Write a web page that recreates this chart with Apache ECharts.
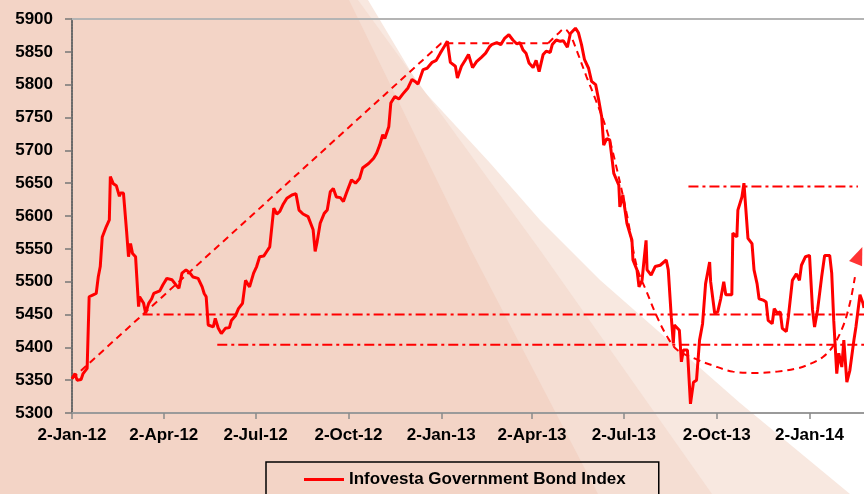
<!DOCTYPE html>
<html>
<head>
<meta charset="utf-8">
<title>Infovesta Government Bond Index</title>
<script src="https://cdn.jsdelivr.net/npm/echarts@6/dist/echarts.min.js"></script>
<style>
    html, body {margin: 0; padding: 0; background: #fff;}
    #chart {width: 864px; height: 494px;}
</style>
</head>
<body>
<div id="chart"></div>
<script>
// x axis = calendar days counted from 2-Jan-12
var startDate = new Date(2012, 0, 2);
var dayCount = 786;
var monthNames = ['Jan','Feb','Mar','Apr','May','Jun','Jul','Aug','Sep','Oct','Nov','Dec'];
var tickLabels = ['2-Jan-12','2-Apr-12','2-Jul-12','2-Oct-12','2-Jan-13','2-Apr-13','2-Jul-13','2-Oct-13','2-Jan-14'];

var yMin = 5300, yMax = 5900, yStep = 50;

// index
var indexDay = [0,3,5,9,11,15,17,21,24,26,28,30,34,37,38,41,44,47,48,51,54,56,58,60,63,66,67,71,73,76,79,81,87,90,94,99,103,106,109,113,117,120,125,129,131,133,135,140,142,145,148,152,156,158,162,165,169,172,176,180,183,186,190,193,196,200,203,206,209,213,218,222,225,229,234,239,241,243,246,250,253,256,259,262,266,269,272,277,281,285,288,294,299,302,305,308,310,314,316,320,324,328,333,337,340,343,348,352,357,361,365,369,372,375,380,382,386,390,393,397,401,406,410,414,416,421,425,429,433,437,441,444,447,450,453,457,460,463,467,470,474,476,480,484,487,491,494,499,502,505,508,512,515,519,522,525,527,530,533,537,542,543,546,550,555,556,560,562,565,567,569,570,574,578,583,589,591,594,596,597,602,604,606,610,613,616,619,622,625,628,632,633,637,640,643,646,648,654,655,659,660,664,666,670,674,676,679,681,685,688,690,694,696,699,702,704,708,710,714,718,721,723,727,731,734,736,739,743,746,751,753,755,758,760,763,765,768,771,775,777,781,784,785];
var indexValue = [5352,5360,5350,5351,5360,5368,5477,5480,5482,5507,5523,5568,5584,5594,5660,5649,5646,5630,5635,5635,5579,5538,5558,5543,5538,5462,5477,5467,5452,5467,5474,5482,5486,5495,5505,5503,5495,5490,5513,5518,5513,5507,5505,5492,5482,5477,5434,5431,5444,5429,5421,5429,5430,5441,5448,5459,5467,5502,5492,5513,5523,5538,5539,5546,5553,5612,5603,5607,5617,5627,5632,5634,5609,5603,5599,5579,5546,5561,5589,5604,5609,5637,5642,5629,5628,5622,5635,5655,5650,5657,5673,5680,5688,5696,5708,5724,5718,5736,5772,5782,5778,5786,5795,5808,5805,5801,5823,5825,5834,5837,5848,5858,5866,5834,5828,5810,5828,5838,5846,5826,5835,5842,5848,5858,5861,5864,5861,5871,5876,5868,5862,5864,5853,5848,5833,5826,5837,5820,5846,5851,5849,5861,5868,5866,5867,5857,5878,5886,5879,5861,5838,5825,5805,5800,5777,5751,5708,5718,5716,5665,5647,5614,5632,5589,5563,5533,5518,5492,5502,5533,5563,5518,5510,5523,5525,5533,5518,5446,5406,5434,5426,5378,5396,5396,5314,5347,5350,5411,5436,5497,5530,5500,5452,5454,5474,5500,5480,5480,5574,5568,5609,5629,5650,5566,5558,5518,5497,5474,5472,5469,5441,5436,5459,5452,5454,5429,5424,5446,5502,5512,5502,5525,5538,5540,5457,5431,5457,5507,5540,5540,5513,5441,5360,5391,5370,5411,5347,5365,5411,5431,5480,5467,5460];

// dashed trend: straight rise then flat top
var trendUpDay = [0, 366, 472];
var trendUpValue = [5352, 5863, 5863];
// dashed trend: rounded top, fall, rounded bottom, rise
var trendCurveDay = [472, 482, 488, 494, 500, 510, 518, 530, 538, 550, 560, 570, 580, 590, 600, 620, 634, 655, 679, 699, 719, 732, 744, 754, 764, 771, 776];
var trendCurveValue = [5863, 5878, 5885, 5875, 5853, 5812, 5781, 5731, 5685, 5602, 5522, 5483, 5446, 5416, 5396, 5381, 5373, 5363, 5361, 5363, 5368, 5375, 5385, 5401, 5431, 5467, 5507];
var arrowDay = 780, arrowValue = 5540;

// dash-dot levels
var levelValue = [5450, 5404, 5645];
var levelFrom = [70, 144, 611];
var levelTo = [785, 785, 779];

var categories = [];
for (var i = 0; i < dayCount; i++) {
    var d = new Date(2012, 0, 2 + i);
    categories.push(d.getDate() + '-' + monthNames[d.getMonth()] + '-' + String(d.getFullYear()).slice(2));
}
function isTick(index) {
    return tickLabels.indexOf(categories[index]) >= 0;
}
function pairs(xs, ys) {
    var out = [];
    for (var i = 0; i < xs.length; i++) out.push([xs[i], ys[i]]);
    return out;
}

var font = 'Liberation Sans, Arial, sans-serif';
var red = '#FF0000';

var series = [{
    name: 'Infovesta Government Bond Index',
    type: 'line',
    data: pairs(indexDay, indexValue),
    symbol: 'none',
    z: 5,
    lineStyle: {color: red, width: 3},
    itemStyle: {color: red}
}, {
    name: 'trendUp',
    type: 'line',
    data: pairs(trendUpDay, trendUpValue),
    symbol: 'none',
    silent: true,
    z: 4,
    lineStyle: {color: red, width: 2, type: [7, 5]}
}, {
    name: 'trendCurve',
    type: 'line',
    data: pairs(trendCurveDay, trendCurveValue),
    symbol: 'none',
    smooth: 0.35,
    silent: true,
    z: 4,
    lineStyle: {color: red, width: 2, type: [7, 5]}
}, {
    name: 'arrow',
    type: 'scatter',
    data: [[arrowDay, arrowValue]],
    symbol: 'triangle',
    symbolSize: [14, 18],
    symbolRotate: -22,
    silent: true,
    z: 4,
    itemStyle: {color: red}
}];
for (var k = 0; k < levelValue.length; k++) {
    series.push({
        name: 'level' + k,
        type: 'line',
        data: [[levelFrom[k], levelValue[k]], [levelTo[k], levelValue[k]]],
        symbol: 'none',
        silent: true,
        z: 3,
        lineStyle: {color: red, width: 2, type: [10, 4, 3, 4]}
    });
}

var myChart = echarts.init(document.getElementById('chart'));
var option = {
    animation: false,
    backgroundColor: '#ffffff',
    textStyle: {fontFamily: font},
    // the salmon fan behind the plot
    graphic: [{
        type: 'polygon', z: -10, silent: true,
        shape: {points: [[0,0],[368,0],[420,87],[490,163],[540,220],[600,280],[740,403],[850,494],[0,494]]},
        style: {fill: '#F8E8E0'}
    }, {
        type: 'polygon', z: -9, silent: true,
        shape: {points: [[0,0],[358,0],[540,250],[712,494],[0,494]]},
        style: {fill: '#F5DED3'}
    }, {
        type: 'polygon', z: -8, silent: true,
        shape: {points: [[0,0],[349,0],[471,250],[598,494],[0,494]]},
        style: {fill: '#F3D4C6'}
    }],
    grid: {left: 72, right: 0, top: 19, bottom: 81},
    legend: {
        data: ['Infovesta Government Bond Index'],
        left: 266,
        top: 462,
        padding: [9, 33, 20, 38],
        icon: 'rect',
        itemWidth: 40,
        itemHeight: 3,
        borderColor: '#000',
        borderWidth: 1.5,
        textStyle: {fontSize: 17, fontWeight: 'bold', color: '#000', fontFamily: font}
    },
    xAxis: [{
        type: 'category',
        data: categories,
        boundaryGap: false,
        axisLine: {lineStyle: {color: '#9a9a9a', width: 2}},
        axisTick: {interval: isTick, length: 6, lineStyle: {color: '#8a8a8a', width: 1.5}},
        axisLabel: {interval: isTick, margin: 14, color: '#000', fontSize: 17, fontWeight: 'bold', fontFamily: font}
    }, {
        type: 'category',
        data: categories,
        position: 'top',
        boundaryGap: false,
        axisLine: {lineStyle: {color: '#b4b4b4', width: 2}},
        axisTick: {show: false},
        axisLabel: {show: false}
    }],
    yAxis: {
        type: 'value',
        min: yMin,
        max: yMax,
        interval: yStep,
        splitLine: {show: false},
        axisLine: {show: true, lineStyle: {color: '#6a6a6a', width: 2, type: [2, 1]}},
        axisTick: {show: true, length: 7, lineStyle: {color: '#777', width: 1.5}},
        axisLabel: {
            margin: 19, color: '#000', fontSize: 17, fontWeight: 'bold', fontFamily: font,
            formatter: function (v) { return String(v); }
        }
    },
    series: series
};
myChart.setOption(option);
</script>
</body>
</html>
